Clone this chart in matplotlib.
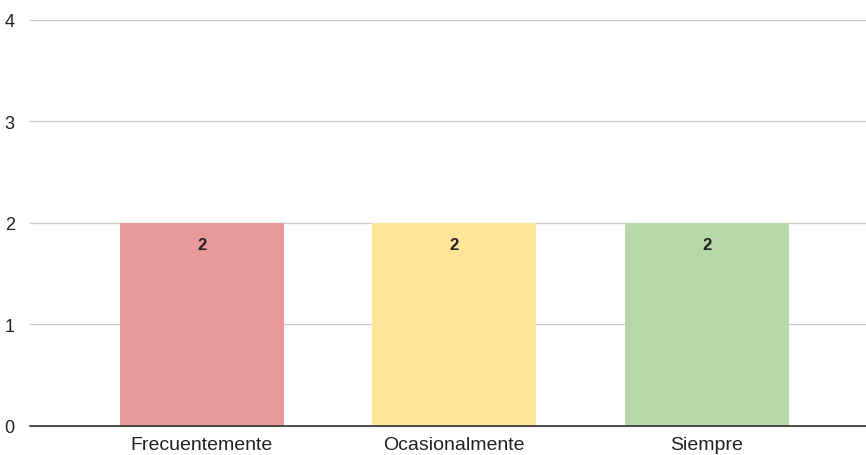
import matplotlib.pyplot as plt

categories = ["Frecuentemente", "Ocasionalmente", "Siempre"]
counts = [2, 2, 2]
bar_colors = ["#EA9999", "#FFE599", "#B6D7A8"]
y_ticks = [0, 1, 2, 3, 4]

plt.rcParams['font.family'] = ['Liberation Sans', 'DejaVu Sans']

fig = plt.figure(figsize=(8.66, 4.56), dpi=100)
ax = fig.add_axes([0.0346, 0.0636, 0.9654, 0.8904])

x = list(range(len(categories)))
bars = ax.bar(x, counts, width=0.65, color=bar_colors, zorder=2)

for rect, v in zip(bars, counts):
    ax.annotate(str(v), (rect.get_x() + rect.get_width() / 2, v),
                xytext=(0, -15.5), textcoords="offset points",
                ha="center", va="center", fontsize=12, fontweight="bold",
                color="#222222")

ax.set_xlim(-0.68, 2.63)
ax.set_ylim(0, 4)
ax.set_yticks(y_ticks)
ax.set_xticks(x)
ax.set_xticklabels(categories)

# light horizontal grid, dark baseline
ax.grid(axis="y", color="#cccccc", linewidth=1, zorder=0)
for g in ax.get_ygridlines():
    g.set_clip_on(False)
for side in ["top", "right", "left"]:
    ax.spines[side].set_visible(False)
ax.spines["bottom"].set_color("#333333")
ax.spines["bottom"].set_linewidth(1.2)
ax.spines["bottom"].set_zorder(3)

ax.tick_params(axis="both", length=0, colors="#222222")
ax.tick_params(axis="y", pad=11, labelsize=13)
ax.tick_params(axis="x", pad=7, labelsize=14)

fig.savefig("out.png", dpi=100)
